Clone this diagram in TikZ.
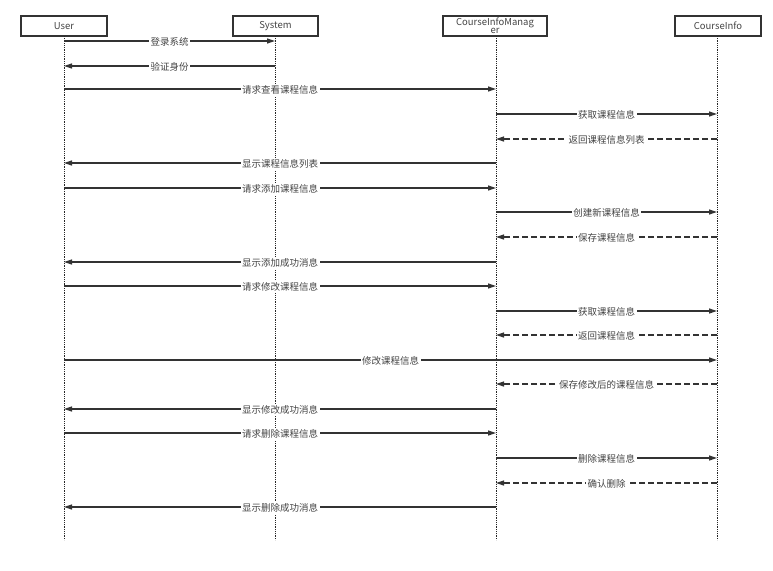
\documentclass[tikz,border=0pt]{standalone}
\usepackage{fontspec}
\setmainfont{Noto Sans CJK SC}
\usetikzlibrary{arrows.meta,positioning}
\definecolor{seqline}{RGB}{51,51,51}
\definecolor{seqtext}{RGB}{68,68,68}

\begin{document}
\begin{tikzpicture}[x=1pt,y=-1pt,
    actor/.style={draw=seqline, line width=1.2pt, minimum height=20pt, inner sep=0pt,
        font=\fontsize{9.5}{10}\selectfont, text=seqtext, align=center},
    life/.style={densely dotted, line width=0.8pt, black!85},
    msg/.style={-{Triangle[length=8pt,width=5pt]}, line width=1.2pt, seqline},
    ret/.style={msg, dash pattern=on 6pt off 3pt},
    lbl/.style={fill=white, inner sep=1.5pt, yshift=-1pt, font=\fontsize{9.5}{10}\selectfont, text=seqtext}]

    \useasboundingbox (0,0) rectangle (773,570);

    % Lifeline heads
    \node[actor, minimum width=86pt] (user) at (64,26) {User};
    \node[actor, minimum width=85pt] (sys) at (275.5,26) {System};
    \node[actor, minimum width=104pt] (mgr) at (495,26) {CourseInfoManag\\[-2pt]er};
    \node[actor, minimum width=86pt] (info) at (718,26) {CourseInfo};

    % Lifelines
    \foreach \p/\x in {user/64, sys/275, mgr/496, info/717} {
        \coordinate (\p-top) at (\x,36);
        \coordinate (\p-end) at (\x,540);
        \draw[life] (\p-top) -- (\p-end);
    }

    % Messages
    \foreach \y/\a/\b/\s/\t in {
        41/user/sys/msg/登录系统,
        66/sys/user/msg/验证身份,
        89/user/mgr/msg/请求查看课程信息,
        114/mgr/info/msg/获取课程信息,
        139/info/mgr/ret/返回课程信息列表,
        163/mgr/user/msg/显示课程信息列表,
        188/user/mgr/msg/请求添加课程信息,
        212/mgr/info/msg/创建新课程信息,
        237/info/mgr/ret/保存课程信息,
        262/mgr/user/msg/显示添加成功消息,
        286/user/mgr/msg/请求修改课程信息,
        311/mgr/info/msg/获取课程信息,
        335/info/mgr/ret/返回课程信息,
        360/user/info/msg/修改课程信息,
        384/info/mgr/ret/保存修改后的课程信息,
        409/mgr/user/msg/显示修改成功消息,
        433/user/mgr/msg/请求删除课程信息,
        458/mgr/info/msg/删除课程信息,
        483/info/mgr/ret/确认删除,
        507/mgr/user/msg/显示删除成功消息} {
        \draw[\s] (\a-top |- 0,\y) -- (\b-top |- 0,\y) node[midway, lbl] {\t};
    }
\end{tikzpicture}
\end{document}
